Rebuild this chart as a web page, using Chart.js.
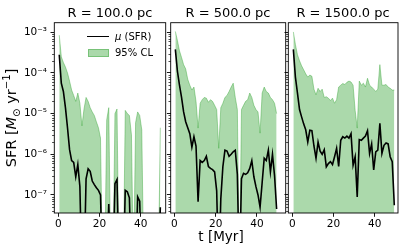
<html lang="en">
  <head>
    <meta charset="UTF-8" />
    <title>SFR</title>
    <style>
      body { margin: 0; background: #fff; width: 407px; height: 250px; position: relative; overflow: hidden; font-family: "DejaVu Sans", sans-serif; }
      canvas { position: absolute; top: 0; }
      .txt { position: absolute; white-space: nowrap; color: #000; line-height: 1; }
      .title { font-size: 13px; width: 120px; text-align: center; top: 6px; }
      sub, sup { font-size: 70%; line-height: 0; }
    </style>
  </head>
  <body>
    <canvas id="c1" width="170" height="250" style="left:0px"></canvas>
    <canvas id="c2" width="140" height="250" style="left:150px"></canvas>
    <canvas id="c3" width="139" height="250" style="left:268px"></canvas>

    <div class="txt title" style="left:50px">R = 100.0 pc</div>
    <div class="txt title" style="left:168px">R = 500.0 pc</div>
    <div class="txt title" style="left:283px">R = 1500.0 pc</div>

    <div class="txt" style="left:-68px;top:110px;width:160px;height:16px;text-align:center;font-size:14.5px;transform:rotate(-90deg)">SFR [<i>M</i><sub>⊙</sub> yr<sup>−1</sup>]</div>
    <div class="txt" style="left:171px;top:230px;width:100px;text-align:center;font-size:13.5px">t [Myr]</div>

    <!-- legend -->
    <div style="position:absolute;left:87px;top:36px;width:22px;height:0;border-top:1.6px solid #000"></div>
    <div class="txt" style="left:115px;top:32px;font-size:10px"><i>μ</i> (SFR)</div>
    <div style="position:absolute;left:88px;top:49px;width:21px;height:8px;box-sizing:border-box;background:rgba(44,160,44,0.4);border:1px solid rgba(44,160,44,0.4)"></div>
    <div class="txt" style="left:115px;top:48px;font-size:10px">95% CL</div>
  </body>
  <script src="https://cdn.jsdelivr.net/npm/chart.js@4.4.1/dist/chart.umd.min.js"></script>
  <script>
    const T = [0.5, 1.5, 2.5, 3.5, 4.5, 5.5, 6.5, 7.5, 8.5, 9.5,
      10.5, 11.5, 12.5, 13.5, 14.5, 15.5, 16.5, 17.5, 18.5, 19.5,
      20.5, 21.5, 22.5, 23.5, 24.5, 25.5, 26.5, 27.5, 28.5, 29.5,
      30.5, 31.5, 32.5, 33.5, 34.5, 35.5, 36.5, 37.5, 38.5, 39.5,
      40.5, 41.5, 42.5, 43.5, 44.5, 45.5, 46.5, 47.5, 48.5, 49.5];

    // upper 95% bound and mean SFR, per radius (0 = no star formation)
    const CL_100 = [8.5e-4, 2.5e-4, 1.8e-4, 1.4e-4, 1.0e-4, 6.3e-5, 3.8e-5, 2.8e-5, 2.0e-5, 3.2e-5,
      1.8e-5, 5.0e-6, 1.3e-5, 2.5e-5, 2.0e-5, 1.4e-5, 1.1e-5, 9.0e-6, 6.3e-6, 4.5e-6,
      2.5e-6, 0, 0, 7.0e-6, 1.4e-5, 0, 0, 1.0e-5, 1.3e-5, 0,
      0, 0, 1.2e-5, 1.0e-5, 9.0e-6, 3.0e-6, 0, 6.0e-6, 1.1e-5, 9.0e-6,
      4.0e-6, 0, 0, 0, 0, 0, 0, 0, 0, 4.5e-6];
    const MU_100 = [2.8e-4, 5.6e-5, 3.5e-5, 1.4e-5, 4.5e-6, 1.3e-6, 7.0e-7, 6.3e-7, 2.8e-7, 5.6e-7,
      1.6e-7, 0, 0, 2.5e-7, 4.4e-7, 3.8e-7, 2.2e-7, 1.8e-7, 1.5e-7, 1.3e-7,
      1.0e-7, 0, 0, 0, 6.0e-8, 0, 0, 1.9e-7, 2.4e-7, 0,
      0, 0, 1.3e-7, 1.2e-7, 8.5e-8, 0, 0, 0, 9.0e-8, 7.0e-8,
      0, 0, 0, 0, 0, 0, 0, 0, 0, 5.0e-8];

    const CL_500 = [1.05e-3, 6.3e-4, 3.5e-4, 2.4e-4, 1.6e-4, 1.26e-4, 7.0e-5, 5.0e-5, 3.8e-5, 4.5e-5,
      2.0e-5, 4.4e-6, 1.8e-5, 2.2e-5, 2.5e-5, 2.4e-5, 1.9e-5, 2.2e-5, 2.0e-5, 1.6e-5,
      1.26e-5, 1.4e-6, 1.4e-5, 1.8e-5, 2.5e-5, 2.8e-5, 3.5e-5, 4.5e-5, 5.6e-5, 2.5e-5,
      1.26e-5, 0, 1.26e-5, 1.6e-5, 2.0e-5, 2.2e-5, 3.2e-5, 2.5e-5, 1.6e-5, 1.26e-5,
      1.1e-5, 3.3e-6, 3.2e-5, 4.5e-5, 3.5e-5, 3.2e-5, 2.5e-5, 2.2e-5, 1.8e-5, 1.0e-5];
    const MU_500 = [3.8e-4, 1.1e-4, 5.0e-5, 2.5e-5, 1.1e-5, 6.3e-6, 4.5e-6, 3.2e-6, 1.5e-6, 2.7e-6,
      1.6e-6, 6.8e-8, 7.0e-7, 6.3e-7, 7.0e-7, 8.9e-7, 5.0e-7, 4.5e-7, 4.2e-7, 3.7e-7,
      1.26e-7, 0, 8.0e-8, 5.0e-7, 1.26e-6, 1.2e-6, 8.9e-7, 1.0e-6, 1.15e-6, 1.26e-6,
      3.2e-7, 0, 2.5e-7, 3.4e-7, 3.2e-7, 3.5e-7, 4.5e-7, 7.0e-7, 2.8e-7, 1.6e-7,
      1.0e-7, 5.0e-8, 2.0e-7, 8.0e-7, 7.0e-7, 1.26e-6, 3.7e-7, 1.0e-6, 3.0e-7, 4.5e-8];

    const CL_1500 = [1.02e-3, 5.0e-4, 2.8e-4, 2.0e-4, 1.5e-4, 1.2e-4, 9.5e-5, 7.9e-5, 8.9e-5, 8.3e-5,
      4.0e-5, 2.9e-5, 4.2e-5, 3.5e-5, 4.0e-5, 2.5e-5, 2.6e-5, 2.4e-5, 2.1e-5, 2.4e-5,
      1.8e-5, 2.2e-5, 4.5e-5, 5.0e-5, 5.5e-5, 5.2e-5, 5.9e-5, 6.3e-5, 6.0e-5, 5.0e-5,
      1.2e-5, 4.4e-6, 6.3e-5, 5.0e-5, 5.6e-5, 4.5e-5, 7.4e-5, 5.0e-5, 4.5e-5, 4.0e-5,
      3.5e-5, 4.0e-5, 1.6e-4, 5.0e-5, 5.0e-5, 5.2e-5, 4.5e-5, 4.2e-5, 3.8e-5, 3.8e-5];
    const MU_1500 = [3.8e-4, 7.9e-5, 3.2e-5, 1.26e-5, 8.3e-6, 5.6e-6, 4.0e-6, 2.0e-6, 3.9e-6, 3.8e-6,
      1.6e-6, 8.0e-7, 2.0e-6, 1.2e-6, 1.0e-6, 1.3e-6, 4.9e-7, 5.9e-7, 6.6e-7, 5.6e-7,
      8.7e-7, 1.4e-6, 5.0e-7, 2.2e-6, 2.7e-6, 2.5e-6, 2.8e-6, 2.5e-6, 3.2e-6, 5.4e-7,
      8.7e-7, 8.9e-8, 2.3e-6, 2.2e-6, 2.5e-6, 2.8e-6, 3.8e-6, 1.05e-6, 1.8e-6, 4.1e-7,
      1.15e-6, 1.26e-6, 5.8e-6, 1.05e-6, 1.66e-6, 1.9e-6, 1.8e-6, 8.7e-7, 6.6e-7, 5.6e-8];

    const Y_TICKS = [1e-7, 1e-6, 1e-5, 1e-4, 1e-3];
    const Y_TICK_LABELS = ["10⁻⁷", "10⁻⁶", "10⁻⁵", "10⁻⁴", "10⁻³"];
    const X_TICKS = [0, 20, 40];
    const Y_MIN = 3.6e-8, Y_MAX = 1.72e-3;
    const ZERO_FLOOR = 1e-9; // log axis can't show 0, push it below the frame

    const GREEN = "rgba(44,160,44,0.4)";
    const FONT = "DejaVu Sans";

    // frame + minor log ticks
    const framePlugin = {
      id: "frame",
      afterDraw(chart) {
        const ctx = chart.ctx, a = chart.chartArea, y = chart.scales.y;
        ctx.save();
        ctx.strokeStyle = "#000";
        ctx.lineWidth = 0.9;
        ctx.strokeRect(a.left, a.top, a.right - a.left, a.bottom - a.top);
        ctx.beginPath();
        for (let e = -8; e <= -3; e++) {
          for (let m = 2; m <= 9; m++) {
            const v = m * Math.pow(10, e);
            if (v < Y_MIN || v > Y_MAX) continue;
            const py = Math.round(y.getPixelForValue(v)) + 0.5;
            ctx.moveTo(a.left - 2.2, py);
            ctx.lineTo(a.left, py);
          }
        }
        ctx.lineWidth = 0.7;
        ctx.stroke();
        ctx.restore();
      },
    };

    function pts(vals) {
      return vals.map((v, i) => ({ x: T[i], y: v > 0 ? v : ZERO_FLOOR }));
    }

    function makePanel(id, cl, mu, o) {
      const ctx = document.getElementById(id).getContext("2d");
      return new Chart(ctx, {
        type: "line",
        data: {
          datasets: [
            {
              label: "95% CL",
              data: pts(cl),
              fill: "start",
              backgroundColor: GREEN,
              borderColor: GREEN,
              borderWidth: 1,
              pointRadius: 0,
              tension: 0,
              order: 2,
            },
            {
              label: "μ (SFR)",
              data: pts(mu),
              fill: false,
              borderColor: "#000",
              borderWidth: 1.6,
              pointRadius: 0,
              tension: 0,
              order: 1,
            },
          ],
        },
        options: {
          responsive: false,
          animation: false,
          devicePixelRatio: 1,
          layout: { padding: { left: 0, right: o.padRight, top: 22.7, bottom: 17 } },
          plugins: { legend: { display: false }, tooltip: { enabled: false } },
          scales: {
            x: {
              type: "linear",
              min: o.xmin,
              max: o.xmax,
              afterBuildTicks: (s) => { s.ticks = X_TICKS.map((v) => ({ value: v })); },
              afterFit: (s) => { s.height = 20; },
              ticks: { color: "#000", font: { family: FONT, size: 10.5 }, padding: 1.5, maxRotation: 0, autoSkip: false },
              grid: { drawOnChartArea: false, drawTicks: true, tickLength: 3.8, tickColor: "#000", tickWidth: 0.9 },
              border: { display: false },
            },
            y: {
              type: "logarithmic",
              min: Y_MIN,
              max: Y_MAX,
              afterBuildTicks: (s) => { s.ticks = Y_TICKS.map((v) => ({ value: v, major: true })); },
              afterFit: (s) => { s.width = o.yWidth; },
              ticks: {
                display: o.yLabels,
                color: "#000",
                font: { family: FONT, size: 10.5 },
                padding: 3.5,
                autoSkip: false,
                callback: (v) => Y_TICK_LABELS[Y_TICKS.indexOf(v)] || "",
              },
              grid: { drawOnChartArea: false, drawTicks: true, tickLength: 3.8, tickColor: "#000", tickWidth: 0.9 },
              border: { display: false },
            },
          },
        },
        plugins: [framePlugin],
      });
    }

    makePanel("c1", CL_100, MU_100, { xmin: -1.9, xmax: 52.1, yWidth: 54.3, padRight: 4.3, yLabels: true });
    makePanel("c2", CL_500, MU_500, { xmin: -1.75, xmax: 53.9, yWidth: 20.7, padRight: 4.3, yLabels: false });
    makePanel("c3", CL_1500, MU_1500, { xmin: -1.95, xmax: 51.3, yWidth: 20.3, padRight: 9, yLabels: false });
  </script>
</html>
